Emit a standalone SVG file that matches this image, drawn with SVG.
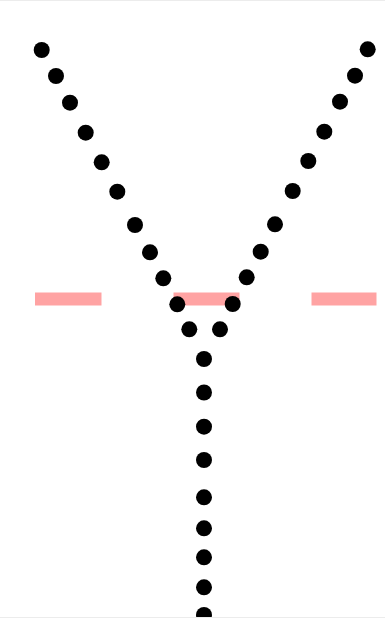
<svg xmlns="http://www.w3.org/2000/svg" width="385" height="618" viewBox="0 0 385 618">
  <style>
    .dot { fill: #000; }
    .dash { fill: #ffa3a3; }
    .edge { stroke: #ececec; stroke-width: 1; }
  </style>
  <defs>
    <circle id="d" r="8" class="dot"/>
  </defs>
  <rect width="385" height="618" fill="#fff"/>
  <line class="edge" x1="0" y1="0.5" x2="385" y2="0.5"/>
  <g id="reference-line">
    <rect class="dash" x="35" y="292.5" width="66.5" height="13"/>
    <rect class="dash" x="173.5" y="292.5" width="66" height="13"/>
    <rect class="dash" x="311.5" y="292.5" width="65" height="13"/>
  </g>
  <g id="connectors">
    <g id="left-branch">
      <use href="#d" x="41.7" y="50"/>
      <use href="#d" x="56" y="76"/>
      <use href="#d" x="70" y="102.7"/>
      <use href="#d" x="85.7" y="132.7"/>
      <use href="#d" x="101.7" y="162.3"/>
      <use href="#d" x="117.3" y="191.7"/>
      <use href="#d" x="135" y="225"/>
      <use href="#d" x="150" y="252.3"/>
      <use href="#d" x="163.3" y="278.3"/>
      <use href="#d" x="177.3" y="304.3"/>
      <use href="#d" x="189.3" y="329.3"/>
    </g>
    <g id="right-branch">
      <use href="#d" x="367.7" y="49.3"/>
      <use href="#d" x="355" y="75.7"/>
      <use href="#d" x="340" y="101.7"/>
      <use href="#d" x="324.3" y="131.7"/>
      <use href="#d" x="308.3" y="161"/>
      <use href="#d" x="292.7" y="191"/>
      <use href="#d" x="275" y="224.3"/>
      <use href="#d" x="260.7" y="251.7"/>
      <use href="#d" x="246.7" y="277.3"/>
      <use href="#d" x="232.7" y="304"/>
      <use href="#d" x="220" y="329.3"/>
    </g>
    <g id="stem">
      <use href="#d" x="204" y="359"/>
      <use href="#d" x="204" y="392.5"/>
      <use href="#d" x="204" y="426.7"/>
      <use href="#d" x="204" y="460"/>
      <use href="#d" x="204" y="497.3"/>
      <use href="#d" x="204" y="528.3"/>
      <use href="#d" x="204" y="557.3"/>
      <use href="#d" x="204" y="587.3"/>
      <use href="#d" x="204" y="615"/>
    </g>
  </g>
  <line class="edge" x1="0" y1="617.5" x2="385" y2="617.5"/>
</svg>
